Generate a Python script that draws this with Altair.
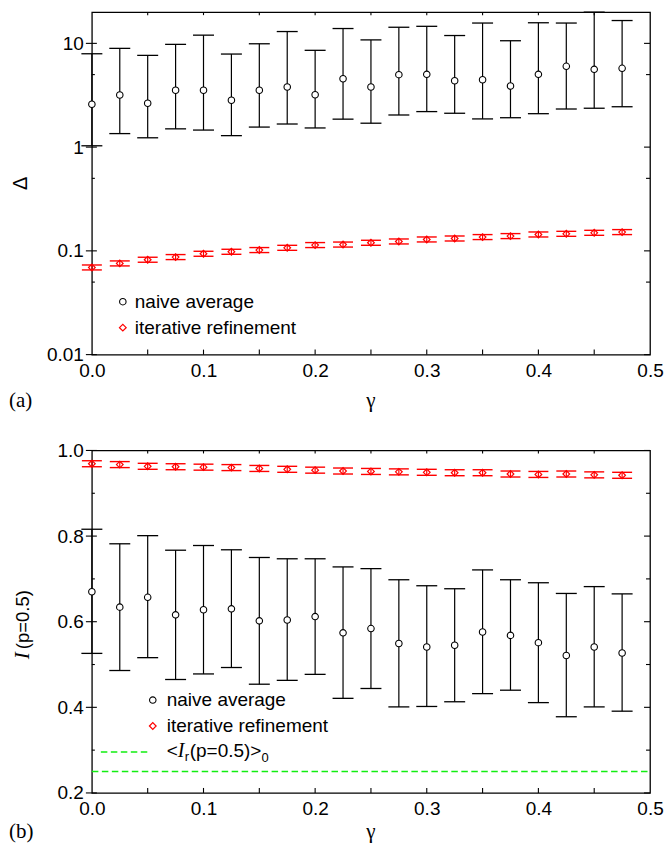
import altair as alt
import pandas as pd

# ---------------- data ----------------
gamma = [0.0, 0.025, 0.05, 0.075, 0.1, 0.125, 0.15, 0.175, 0.2, 0.225,
         0.25, 0.275, 0.3, 0.325, 0.35, 0.375, 0.4, 0.425, 0.45, 0.475]

# panel (a): Delta (log scale)
naive_a = [2.59, 3.18, 2.65, 3.53, 3.53, 2.83, 3.53, 3.80, 3.20, 4.56,
           3.80, 4.99, 5.03, 4.36, 4.46, 3.88, 5.03, 6.01, 5.62, 5.75]
naive_a_hi = [7.94, 8.95, 7.66, 9.78, 12.0, 7.89, 9.91, 13.0, 8.57, 13.9,
              10.8, 14.3, 14.6, 11.9, 15.7, 10.6, 15.8, 15.7, 20.0, 16.6]
naive_a_lo = [1.03, 1.35, 1.23, 1.50, 1.46, 1.29, 1.56, 1.67, 1.53, 1.86,
              1.70, 2.04, 2.20, 2.12, 1.87, 1.92, 2.10, 2.33, 2.37, 2.45]
iter_a = [0.0692, 0.0757, 0.0821, 0.0871, 0.0938, 0.0980, 0.1018, 0.1070, 0.1137, 0.1150,
          0.1197, 0.1232, 0.1288, 0.1316, 0.1358, 0.1388, 0.1439, 0.1460, 0.1493, 0.1517]
iter_a_lo = [0.0655, 0.0716, 0.0777, 0.0824, 0.0887, 0.0927, 0.0963, 0.1012, 0.1076, 0.1088,
             0.1132, 0.1166, 0.1219, 0.1245, 0.1285, 0.1313, 0.1361, 0.1381, 0.1412, 0.1435]
iter_a_hi = [0.0731, 0.0800, 0.0868, 0.0921, 0.0991, 0.1036, 0.1076, 0.1131, 0.1202, 0.1216,
             0.1265, 0.1302, 0.1361, 0.1391, 0.1435, 0.1467, 0.1521, 0.1543, 0.1578, 0.1603]

# panel (b): I(p=0.5)
naive_b = [0.670, 0.634, 0.657, 0.616, 0.628, 0.630, 0.602, 0.604, 0.612, 0.574,
           0.584, 0.549, 0.541, 0.545, 0.576, 0.568, 0.551, 0.521, 0.541, 0.527]
naive_b_hi = [0.816, 0.782, 0.801, 0.767, 0.778, 0.768, 0.750, 0.747, 0.747, 0.728,
              0.724, 0.698, 0.684, 0.677, 0.721, 0.698, 0.691, 0.666, 0.682, 0.665]
naive_b_lo = [0.526, 0.486, 0.516, 0.465, 0.478, 0.493, 0.454, 0.463, 0.477, 0.421,
              0.444, 0.401, 0.402, 0.413, 0.432, 0.440, 0.411, 0.378, 0.401, 0.391]
iter_b = [0.969, 0.967, 0.963, 0.962, 0.961, 0.960, 0.958, 0.956, 0.954, 0.952,
          0.951, 0.950, 0.949, 0.948, 0.948, 0.945, 0.944, 0.945, 0.943, 0.942]
iter_b_lo = [0.962, 0.960, 0.956, 0.955, 0.954, 0.953, 0.951, 0.949, 0.947, 0.945,
             0.944, 0.943, 0.942, 0.941, 0.941, 0.938, 0.937, 0.938, 0.936, 0.935]
iter_b_hi = [0.976, 0.974, 0.970, 0.969, 0.968, 0.967, 0.965, 0.963, 0.961, 0.959,
             0.958, 0.957, 0.956, 0.955, 0.955, 0.952, 0.951, 0.952, 0.950, 0.949]
ref_level_b = [0.25]

x_tick_labels = [0.0, 0.1, 0.2, 0.3, 0.4, 0.5]
x_ticks = [0.05, 0.1, 0.15, 0.2, 0.25, 0.3, 0.35, 0.4, 0.45]
ya_major = [0.01, 0.1, 1, 10]
ya_minor = [0.05, 0.5, 5]
yb_major = [0.2, 0.4, 0.6, 0.8, 1.0]
yb_minor = [0.3, 0.5, 0.7, 0.9]

# ---------------- style ----------------
W, H = 559, 343
SANS = "Liberation Sans"
SERIF = "Liberation Serif"
RED = "#ff0000"
GREEN = "#11ee11"

x_scale = alt.Scale(domain=[0, 0.5], nice=False, zero=False)
x_axis = alt.Axis(values=x_tick_labels, format=".1f", title=None, grid=False,
                  domain=False, ticks=False, tickSize=0, labelPadding=7,
                  labelFont=SANS, labelFontSize=19, labelColor="black",
                  labelFlush=False, labelOverlap=False)


def y_axis(values, fmt):
    return alt.Axis(values=values, format=fmt, title=None, grid=False,
                    domain=False, ticks=False, tickSize=0, labelPadding=8.5,
                    labelFont=SANS, labelFontSize=19, labelColor="black",
                    labelFlush=False, labelOverlap=False)


one = pd.DataFrame({"k": [0]})


def txt(text, x, y, font=SANS, size=19, style="normal", angle=0, align="left", opacity=1):
    return alt.Chart(one).mark_text(
        text=text, font=font, fontSize=size, fontStyle=style, angle=angle,
        align=align, baseline="middle", color="black", opacity=opacity
    ).encode(x=alt.value(x), y=alt.value(y))


def panel(y_scale, y_ax, naive, lo, hi, it, it_lo, it_hi, y_major, y_minor):
    df = pd.DataFrame({"gamma": gamma, "naive": naive, "naive_lo": lo, "naive_hi": hi,
                       "iter": it, "iter_lo": it_lo, "iter_hi": it_hi})
    X = alt.X("gamma:Q", scale=x_scale, axis=x_axis)

    def Y(f):
        return alt.Y(f + ":Q", scale=y_scale, axis=y_ax)

    base = alt.Chart(df)
    layers = [
        base.mark_rule(color="black", strokeWidth=1.2).encode(x=X, y=Y("naive_lo"), y2="naive_hi:Q"),
        base.mark_rule(color="black", strokeWidth=1.3, xOffset=-10.5, x2Offset=10.5).encode(
            x=X, x2="gamma:Q", y=Y("naive_hi")),
        base.mark_rule(color="black", strokeWidth=1.3, xOffset=-10.5, x2Offset=10.5).encode(
            x=X, x2="gamma:Q", y=Y("naive_lo")),
        base.mark_point(shape="circle", size=42, fill="white", stroke="black", strokeWidth=1.1,
                        fillOpacity=1, opacity=1).encode(x=X, y=Y("naive")),
        base.mark_rule(color=RED, strokeWidth=1.2).encode(x=X, y=Y("iter_lo"), y2="iter_hi:Q"),
        base.mark_rule(color=RED, strokeWidth=1.4, xOffset=-10, x2Offset=10).encode(
            x=X, x2="gamma:Q", y=Y("iter_hi")),
        base.mark_rule(color=RED, strokeWidth=1.4, xOffset=-10, x2Offset=10).encode(
            x=X, x2="gamma:Q", y=Y("iter_lo")),
        base.mark_point(shape="diamond", size=45, filled=False, color=RED, strokeWidth=1.2,
                        opacity=1).encode(x=X, y=Y("iter")),
        # inward ticks on the frame
        alt.Chart(pd.DataFrame({"v": y_major})).mark_rule(color="black", strokeWidth=1.1).encode(
            y=Y("v"), x=alt.value(-6), x2=alt.value(5)),
        alt.Chart(pd.DataFrame({"v": y_minor})).mark_rule(color="black", strokeWidth=1.1).encode(
            y=Y("v"), x=alt.value(0), x2=alt.value(3)),
        alt.Chart(pd.DataFrame({"v": y_major})).mark_rule(color="black", strokeWidth=1.1).encode(
            y=Y("v"), x=alt.value(W - 6), x2=alt.value(W)),
        alt.Chart(pd.DataFrame({"v": y_minor})).mark_rule(color="black", strokeWidth=1.1).encode(
            y=Y("v"), x=alt.value(W - 4), x2=alt.value(W)),
        alt.Chart(pd.DataFrame({"v": x_ticks})).mark_rule(color="black", strokeWidth=1.1).encode(
            x=alt.X("v:Q", scale=x_scale, axis=x_axis), y=alt.value(H - 5), y2=alt.value(H)),
        alt.Chart(pd.DataFrame({"v": x_ticks})).mark_rule(color="black", strokeWidth=1.1).encode(
            x=alt.X("v:Q", scale=x_scale, axis=x_axis), y=alt.value(0), y2=alt.value(3)),
        # invisible spacers so both panels have identical bounding boxes
        txt("0", -30, 0, opacity=0),
        txt("(", -30, 389, font=SERIF, size=21, opacity=0),
    ]
    return layers, Y


# ---------------- panel (a) ----------------
ys_a = alt.Scale(type="log", domain=[0.01, 20], nice=False)
layers_a, Ya = panel(ys_a, y_axis(ya_major, "~g"), naive_a, naive_a_lo, naive_a_hi,
                     iter_a, iter_a_lo, iter_a_hi, ya_major, ya_minor)
layers_a += [
    alt.Chart(one).mark_point(shape="circle", size=42, filled=False, color="black", strokeWidth=1.1,
                              opacity=1).encode(x=alt.value(31), y=alt.value(290)),
    txt("naive average", 43, 290),
    alt.Chart(one).mark_point(shape="diamond", size=45, filled=False, color=RED, strokeWidth=1.2,
                              opacity=1).encode(x=alt.value(31), y=alt.value(316)),
    txt("iterative refinement", 43, 316),
    txt("Δ", -70.5, H / 2, size=20, angle=270, align="center"),
    txt("γ", W / 2, 389, font=SERIF, size=21, align="center"),
    txt("(a)", -83, 389, font=SERIF, size=21),
]
panel_a = alt.layer(*layers_a).properties(width=W, height=H)

# ---------------- panel (b) ----------------
ys_b = alt.Scale(domain=[0.2, 1.0], nice=False, zero=False)
layers_b, Yb = panel(ys_b, y_axis(yb_major, ".1f"), naive_b, naive_b_lo, naive_b_hi,
                     iter_b, iter_b_lo, iter_b_hi, yb_major, yb_minor)
layers_b += [
    alt.Chart(pd.DataFrame({"v": ref_level_b})).mark_rule(
        color=GREEN, strokeDash=[6.5, 3.5], strokeWidth=1.4).encode(
        y=Yb("v"), x=alt.value(0), x2=alt.value(W)),
    alt.Chart(one).mark_point(shape="circle", size=42, filled=False, color="black", strokeWidth=1.1,
                              opacity=1).encode(x=alt.value(61), y=alt.value(250)),
    txt("naive average", 75, 250),
    alt.Chart(one).mark_point(shape="diamond", size=45, filled=False, color=RED, strokeWidth=1.2,
                              opacity=1).encode(x=alt.value(61), y=alt.value(276)),
    txt("iterative refinement", 75, 276),
    alt.Chart(one).mark_rule(color=GREEN, strokeDash=[6.5, 3.5], strokeWidth=1.4).encode(
        x=alt.value(9), x2=alt.value(59), y=alt.value(302)),
    txt("<", 75, 301),
    txt("I", 86, 301, font=SERIF, size=20, style="italic"),
    txt("r", 93, 307, size=13),
    txt("(p=0.5)>", 98, 301),
    txt("0", 170, 308, size=13),
    txt("I", -69, 209, font=SERIF, size=21, style="italic", angle=270),
    txt("(p=0.5)", -69, 199, size=18.5, angle=270),
    txt("γ", W / 2, 382, font=SERIF, size=21, align="center"),
    txt("(b)", -83, 382, font=SERIF, size=21),
]
panel_b = alt.layer(*layers_b).properties(width=W, height=H)

chart = alt.vconcat(panel_a, panel_b, spacing=29).properties(
    padding={"left": 0, "top": -6.5, "right": 0, "bottom": 0}
).configure(background="white").configure_view(stroke="black", strokeWidth=1.3)

chart.save("out.html", embed_options={"renderer": "svg", "actions": False})
